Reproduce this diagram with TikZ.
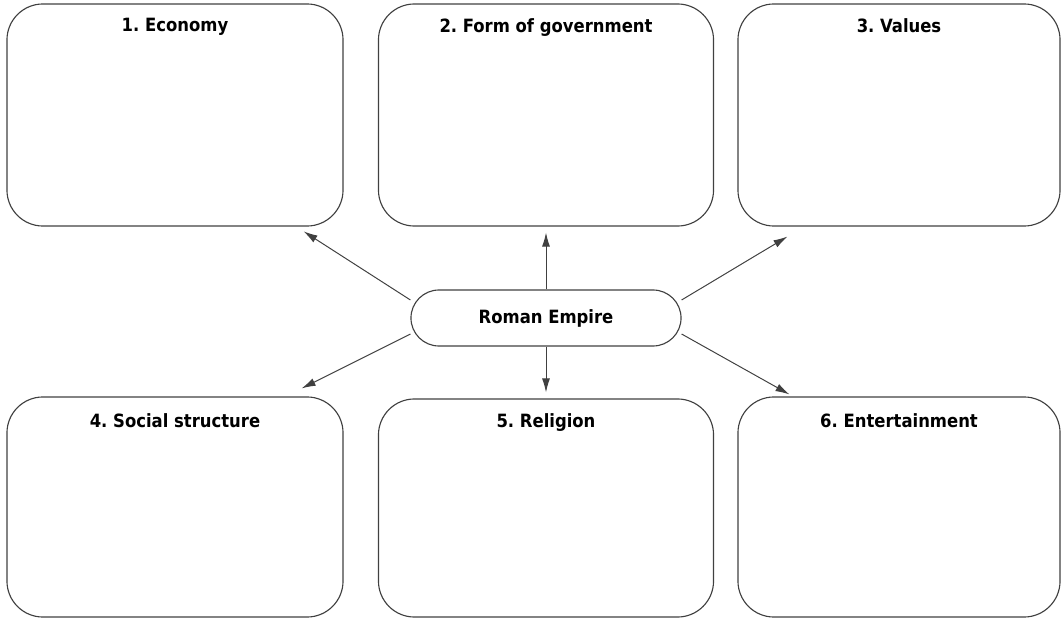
\documentclass[tikz,border=0pt]{standalone}
\usepackage{fontspec}
\setmainfont{DejaVu Sans Condensed}
\frenchspacing
\usetikzlibrary{arrows.meta,positioning,calc}
\tikzset{
    topic/.style={draw=black!75, line width=0.8pt, rounded corners=0.9cm, minimum width=8.4cm, minimum height=5.55cm},
    hub/.style={draw=black!75, line width=0.8pt, rounded corners=0.7cm, minimum width=6.75cm, minimum height=1.4cm, font=\bfseries\fontsize{13}{15}\selectfont},
    title/.style={font=\bfseries\fontsize{13}{15}\selectfont, anchor=north},
    link/.style={-{Latex[length=3.5mm, width=2mm]}, line width=0.7pt, black!75}
}

\begin{document}
\begin{tikzpicture}[x=0.025cm, y=-0.025cm]
        \useasboundingbox (0,0) rectangle (1063,622);

        % the six topics
        \node[topic] (economy) at (175,115) {};
        \node[topic, minimum width=8.375cm] (government) at (546,115) {};
        \node[topic, minimum width=8.05cm] (values) at (899,115) {};
        \node[topic, minimum height=5.5cm] (social) at (175,507) {};
        \node[topic, minimum width=8.375cm, minimum height=5.45cm] (religion) at (546,508) {};
        \node[topic, minimum width=8.05cm, minimum height=5.5cm] (entertainment) at (899,507) {};

        \node[title, below=0.25cm of economy.north] (economyT) {1. Economy};
        \node[title, below=0.25cm of government.north] (governmentT) {2. Form of government};
        \node[title, below=0.25cm of values.north] (valuesT) {3. Values};
        \node[title, below=0.3cm of social.north] (socialT) {4. Social structure};
        \node[title, below=0.25cm of religion.north] (religionT) {5. Religion};
        \node[title, below=0.3cm of entertainment.north] (entertainmentT) {6. Entertainment};

        % centre
        \node[hub] (empire) at (546,318) {Roman Empire};

        \draw[link] ([yshift=0.45cm]empire.west) -- ([xshift=-1cm, yshift=-0.12cm]economy.south east);
        \draw[link, shorten >=0.15cm] (empire.north) -- (government.south);
        \draw[link] ([yshift=0.45cm]empire.east) -- ([xshift=1.25cm, yshift=-0.25cm]values.south west);
        \draw[link] ([yshift=-0.4cm]empire.west) -- ([xshift=-1.05cm, yshift=0.2cm]social.north east);
        \draw[link, shorten >=0.15cm] (empire.south) -- (religion.north);
        \draw[link] ([yshift=-0.4cm]empire.east) -- ([xshift=1.3cm, yshift=0.05cm]entertainment.north west);
\end{tikzpicture}
\end{document}
